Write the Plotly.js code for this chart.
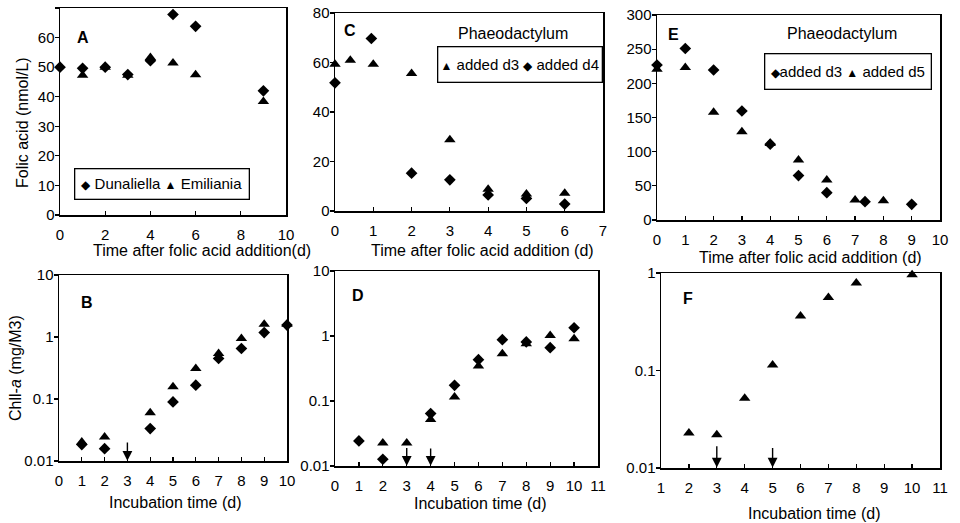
<!DOCTYPE html>
<html>
<head>
<meta charset="utf-8">
<script src="https://cdn.plot.ly/plotly-3.0.1.min.js"></script>
<style>html,body{margin:0;padding:0;background:#fff;}#chart{width:960px;height:523px;}</style>
</head>
<body>
<div id="chart"></div>
<script>
// ---- Panel A: folic acid (nmol/L)
const A_dunX = [0, 1, 2, 3, 4, 5, 6, 9];
const A_dunY = [50, 49.6, 50, 47.5, 52.2, 67.8, 63.8, 42];
const A_emiX = [1, 2, 3, 4, 5, 6, 9];
const A_emiY = [47.3, 50, 47.3, 53.3, 51.4, 47.4, 38.4];
const A_names = ['Dunaliella', 'Emiliania'];
// ---- Panel C: Phaeodactylum
const C_d3X = [0, 0.4, 1, 2, 3, 4, 5, 6];
const C_d3Y = [59.3, 60.9, 59.3, 55.6, 28.8, 8.8, 6.9, 7.2];
const C_d4X = [0, 0.95, 2, 3, 4, 5, 6];
const C_d4Y = [51.8, 69.7, 15.3, 12.6, 6.5, 5.1, 2.8];
const C_names = ['added d3', 'added d4'];
// ---- Panel E: Phaeodactylum
const E_d3X = [0, 1, 2, 3, 4, 5, 6, 7.35, 9];
const E_d3Y = [226.8, 251, 219.5, 159.5, 111, 65, 40, 26.8, 23];
const E_d5X = [0, 1, 2, 3, 4, 5, 6, 7, 8];
const E_d5Y = [220.5, 223, 157.6, 129, 112, 87.8, 58.5, 29.3, 28.3];
const E_names = ['added d3', 'added d5'];
// ---- Panel B: Chl-a
const B_x = [1, 2, 4, 5, 6, 7, 8, 9, 10];
const B_dia = [0.0184, 0.0158, 0.0333, 0.0898, 0.167, 0.45, 0.653, 1.18, 1.56];
const B_tri = [0.0203, 0.0244, 0.06, 0.157, 0.31, 0.54, 0.947, 1.61, 1.61];
const B_arrowX = [3];
const B_arrowTop = [0.021];
// ---- Panel D
const D_diaX = [1, 2, 4, 5, 6, 7, 8, 9, 10];
const D_dia = [0.0243, 0.0127, 0.064, 0.174, 0.432, 0.878, 0.81, 0.662, 1.34];
const D_triX = [2, 3, 4, 5, 6, 7, 8, 9, 10];
const D_tri = [0.0226, 0.0226, 0.052, 0.115, 0.345, 0.535, 0.76, 1.02, 0.91];
const D_arrowX = [3, 4];
const D_arrowTop = [0.02, 0.0196];
// ---- Panel F
const F_x = [2, 3, 4, 5, 6, 7, 8, 10];
const F_tri = [0.0228, 0.0219, 0.052, 0.114, 0.363, 0.56, 0.79, 0.96];
const F_arrowX = [3, 5];
const F_arrowTop = [0.0173, 0.0166];

const logTicks = [0.01, 0.1, 1, 10];
const logText = ['0.01', '0.1', '1', '10'];

const W = 960, H = 523;
const px = v => v / W;
const py = v => 1 - v / H;
const FONT = 'Liberation Sans, Arial, sans-serif';
const dia = {symbol: 'diamond', size: 9, color: '#000'};
const tri = {symbol: 'triangle-up', size: 10, color: '#000'};
const DIA = '<span style="font-size:12px">◆</span>';
const TRI = '<span style="font-size:12px">▲</span>';

function tr(x, y, ax, name, marker) {
  return {x: x, y: y, xaxis: 'x' + ax, yaxis: 'y' + ax, type: 'scatter', mode: 'markers',
    name: name, marker: marker, showlegend: false, cliponaxis: false};
}
const traces = [
  tr(A_dunX, A_dunY, '', A_names[0], dia),
  tr(A_emiX, A_emiY, '', A_names[1], tri),
  tr(C_d3X, C_d3Y, '2', C_names[0], tri),
  tr(C_d4X, C_d4Y, '2', C_names[1], dia),
  tr(E_d3X, E_d3Y, '3', E_names[0], dia),
  tr(E_d5X, E_d5Y, '3', E_names[1], tri),
  tr(B_x, B_dia, '4', 'B diamonds', dia),
  tr(B_x, B_tri, '4', 'B triangles', tri),
  tr(D_diaX, D_dia, '5', 'D diamonds', dia),
  tr(D_triX, D_tri, '5', 'D triangles', tri),
  tr(F_x, F_tri, '6', 'F triangles', tri)
];

function xax(d, range, dtick, anchor) {
  return {domain: [px(d[0]), px(d[1])], range: range, dtick: dtick, tick0: range[0] < 1 ? 0 : 1,
    anchor: anchor, showline: true, mirror: true, linecolor: '#000', linewidth: 1.5,
    ticks: 'inside', ticklen: 4, tickcolor: '#000', tickwidth: 1.2, showgrid: false, zeroline: false,
    tickfont: {size: 15, color: '#000'}, ticklabelstandoff: 5, fixedrange: true};
}
function yax(d, range, dtick, anchor, log) {
  const o = {domain: [py(d[1]), py(d[0])], range: range, anchor: anchor, showline: true, mirror: true,
    linecolor: '#000', linewidth: 1.5, ticks: 'outside', ticklen: 4, tickcolor: '#000', tickwidth: 1.2,
    showgrid: false, zeroline: false, tickfont: {size: 15, color: '#000'}, ticklabelstandoff: -3,
    fixedrange: true};
  if (log) { o.type = 'log'; o.tickvals = logTicks; o.ticktext = logText; }
  else { o.dtick = dtick; }
  return o;
}

const annotations = [];
function txt(x, y, t, opts) {
  annotations.push(Object.assign({xref: 'paper', yref: 'paper', x: px(x), y: py(y), text: t,
    showarrow: false, xanchor: 'center', yanchor: 'middle', font: {size: 16, color: '#000'}}, opts || {}));
}
// panel letters
txt(83, 37, '<b>A</b>'); txt(350, 30, '<b>C</b>'); txt(673, 35, '<b>E</b>');
txt(87, 302, '<b>B</b>'); txt(358, 295, '<b>D</b>'); txt(688, 298, '<b>F</b>');
// species titles
txt(513, 33, 'Phaeodactylum'); txt(842, 33, 'Phaeodactylum');
// axis titles
txt(202, 250, 'Time after folic acid addition(d)');
txt(482, 251, 'Time after folic acid addition (d)');
txt(810, 257, 'Time after folic acid addition (d)');
txt(175, 502, 'Incubation time (d)');
txt(480, 503, 'Incubation time (d)');
txt(814, 513, 'Incubation time (d)');
txt(22, 123, 'Folic acid (nmol/L)', {textangle: -90});
txt(15, 368, 'Chll-<i>a</i> (mg/M3)', {textangle: -90});

// legends (boxed keys)
function legendBox(x, y, w, h, sym1, name1, sym2, name2) {
  annotations.push({xref: 'paper', yref: 'paper', x: px(x), y: py(y), xanchor: 'left', yanchor: 'top',
    width: w, height: h, align: 'center', valign: 'middle', showarrow: false,
    bordercolor: '#000', borderwidth: 1.3, borderpad: 0,
    text: sym1 + name1 + ' ' + sym2 + ' ' + name2, font: {size: 15, color: '#000'}});
}
legendBox(74, 168, 173, 29, DIA + ' ', A_names[0], TRI, A_names[1]);
legendBox(437, 46, 163, 34, TRI + ' ', C_names[0], DIA, C_names[1]);
legendBox(764, 53, 165, 34, DIA, E_names[0], TRI, E_names[1]);

// arrows (detection-limit markers)
function arrows(xs, tops, ax) {
  xs.forEach((x, i) => {
    annotations.push({xref: 'x' + ax, yref: 'y' + ax, axref: 'x' + ax, ayref: 'y' + ax,
      x: x, y: Math.log10(0.0101), ax: x, ay: Math.log10(tops[i]), text: '',
      showarrow: true, arrowhead: 2, arrowsize: 1.4, arrowwidth: 1.4, arrowcolor: '#000'});
  });
}
arrows(B_arrowX, B_arrowTop, '4');
arrows(D_arrowX, D_arrowTop, '5');
arrows(F_arrowX, F_arrowTop, '6');

const layout = {
  width: W, height: H, margin: {l: 0, r: 0, t: 0, b: 0},
  paper_bgcolor: '#fff', plot_bgcolor: '#fff',
  font: {family: FONT, size: 15, color: '#000'},
  xaxis: xax([60, 286], [0, 10], 2, 'y'),
  yaxis: yax([8, 215], [0, 70], 10, 'x'),
  xaxis2: xax([335, 603], [0, 7], 1, 'y2'),
  yaxis2: yax([13, 211], [0, 80], 20, 'x2'),
  xaxis3: xax([657, 940], [0, 10], 1, 'y3'),
  yaxis3: yax([15, 220], [0, 300], 50, 'x3'),
  xaxis4: xax([59, 287], [0, 10], 1, 'y4'),
  yaxis4: yax([275, 461], [-2, 1], null, 'x4', true),
  xaxis5: xax([335, 598], [0, 11], 1, 'y5'),
  yaxis5: yax([271, 466], [-2, 1], null, 'x5', true),
  xaxis6: xax([661, 940], [1, 11], 1, 'y6'),
  yaxis6: yax([273, 468], [-2, 0], null, 'x6', true),
  annotations: annotations,
  showlegend: false
};

Plotly.newPlot('chart', traces, layout, {displayModeBar: false, staticPlot: true});
</script>
</body>
</html>
